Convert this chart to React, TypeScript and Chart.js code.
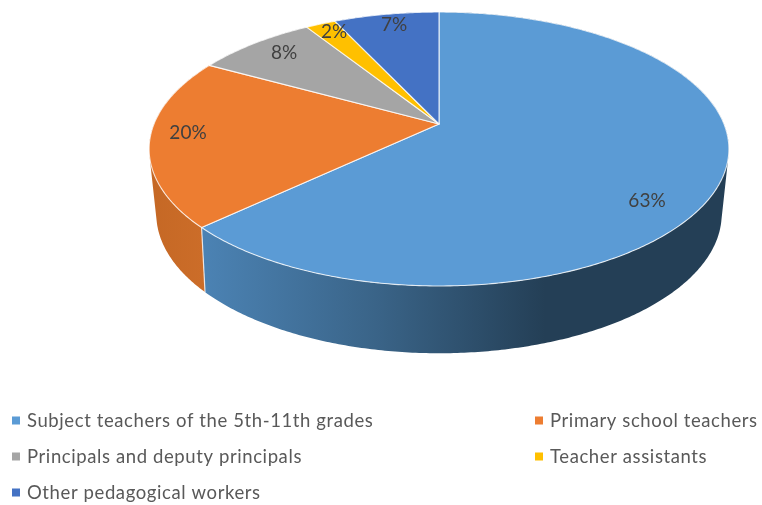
import React, { useEffect, useRef } from "react";
import { Chart, registerables } from "chart.js";

Chart.register(...registerables);

const categories = [
  "Subject teachers of the 5th-11th grades",
  "Primary school teachers",
  "Principals and deputy principals",
  "Teacher assistants",
  "Other pedagogical workers",
];
const shares = [63, 20, 8, 2, 7];
const sliceColors = ["#5B9BD5", "#ED7D31", "#A5A5A5", "#FFC000", "#4472C4"];
const labelCenters = [
  [647, 201],
  [188, 133],
  [284, 53],
  [334, 32],
  [394, 25],
];
const legendSlots = [
  [12, 421],
  [535, 421],
  [12, 457],
  [535, 457],
  [12, 493],
];

// Perspective projection of the pie's unit circle: top face and bottom face
const topFace = { cx: 439, cy: 124, a: 132.4, d: 285, c: -0.1825 };
const bottomFace = { cx: 439, cy: 186, a: 133.8, d: 277, c: -0.2 };

type Face = typeof topFace;
const project = (f: Face, t: number, r = 1): [number, number] => {
  const u = Math.cos(t) * r;
  const v = Math.sin(t) * r;
  const w = 1 + f.c * v;
  return [f.cx + (f.d * u) / w, f.cy + (f.a * v) / w];
};

const arcPoints = (f: Face, a: number, b: number) => {
  const n = Math.max(2, Math.ceil(Math.abs(b - a) / 0.01));
  const out: [number, number][] = [];
  for (let i = 0; i <= n; i++) out.push(project(f, a + ((b - a) * i) / n));
  return out;
};

const wallFill = (ctx: CanvasRenderingContext2D, i: number) => {
  if (i === 0) {
    const g = ctx.createLinearGradient(206, 0, 545, 0);
    g.addColorStop(0, "#4B82B3");
    g.addColorStop(0.5, "#3A6488");
    g.addColorStop(1, "#243F56");
    return g;
  }
  if (i === 1) {
    const g = ctx.createLinearGradient(150, 0, 206, 0);
    g.addColorStop(0, "#C56825");
    g.addColorStop(1, "#CC6D29");
    return g;
  }
  return sliceColors[i];
};

const pie3d = {
  id: "pie3d",
  beforeDatasetsDraw(chart: any) {
    const ctx: CanvasRenderingContext2D = chart.ctx;
    const arcs = chart.getDatasetMeta(0).data;
    ctx.save();
    // side walls: same-winding quads between the two faces, filled as one path
    arcs.forEach((arc: any, i: number) => {
      const { startAngle: s, endAngle: e } = arc;
      const upper = arcPoints(topFace, s, e);
      const lower = arcPoints(bottomFace, s, e);
      ctx.beginPath();
      for (let k = 0; k + 1 < upper.length; k++) {
        const q = [upper[k], upper[k + 1], lower[k + 1], lower[k]];
        let area = 0;
        q.forEach((p, j) => {
          const n = q[(j + 1) % 4];
          area += p[0] * n[1] - n[0] * p[1];
        });
        if (area < 0) q.reverse();
        q.forEach((p, j) => (j ? ctx.lineTo(p[0], p[1]) : ctx.moveTo(p[0], p[1])));
        ctx.closePath();
      }
      ctx.fillStyle = wallFill(ctx, i);
      ctx.fill("nonzero");
    });
    // seams on the visible wall
    arcs.forEach((arc: any) => {
      const t = arc.startAngle;
      if (Math.sin(t) > 0.2) {
        const [x1, y1] = project(topFace, t);
        const [x2, y2] = project(bottomFace, t);
        ctx.beginPath();
        ctx.moveTo(x1, y1);
        ctx.lineTo(x2, y2);
        ctx.strokeStyle = "rgba(255,255,255,0.75)";
        ctx.lineWidth = 1.2;
        ctx.stroke();
      }
    });
    // top face
    arcs.forEach((arc: any, i: number) => {
      const { startAngle: s, endAngle: e } = arc;
      ctx.beginPath();
      ctx.moveTo(topFace.cx, topFace.cy);
      arcPoints(topFace, s, e).forEach(([x, y]) => ctx.lineTo(x, y));
      ctx.closePath();
      ctx.fillStyle = sliceColors[i];
      ctx.fill();
      ctx.strokeStyle = "rgba(255,255,255,0.8)";
      ctx.lineWidth = 1.1;
      ctx.lineJoin = "round";
      ctx.stroke();
    });
    // percentage labels
    ctx.font = '19px Lato, "Open Sans", sans-serif';
    ctx.fillStyle = "#404040";
    ctx.textAlign = "center";
    ctx.textBaseline = "middle";
    shares.forEach((v, i) => ctx.fillText(`${v}%`, labelCenters[i][0], labelCenters[i][1]));
    // legend
    ctx.textAlign = "left";
    ctx.font = '18.5px Lato, "Open Sans", sans-serif';
    (ctx as any).letterSpacing = "0.6px";
    categories.forEach((name, i) => {
      const [x, y] = legendSlots[i];
      ctx.fillStyle = sliceColors[i];
      ctx.fillRect(x, y - 4.5, 8, 8);
      ctx.fillStyle = "#595959";
      ctx.fillText(name, x + 15, y);
    });
    ctx.restore();
    return false;
  },
};

export default function App() {
  const ref = useRef<HTMLCanvasElement>(null);
  useEffect(() => {
    const chart = new Chart(ref.current as HTMLCanvasElement, {
      type: "pie",
      data: {
        labels: categories,
        datasets: [{ data: shares, backgroundColor: sliceColors, borderWidth: 0 }],
      },
      options: {
        animation: false,
        responsive: false,
        plugins: { legend: { display: false }, tooltip: { enabled: false } },
      },
      plugins: [pie3d],
    } as any);
    return () => chart.destroy();
  }, []);
  return (
    <div style={{ position: "absolute", left: 0, top: 0, width: 762, height: 505 }}>
      <canvas ref={ref} width={762} height={505} style={{ display: "block", filter: "blur(0.4px)" }} />
    </div>
  );
}
